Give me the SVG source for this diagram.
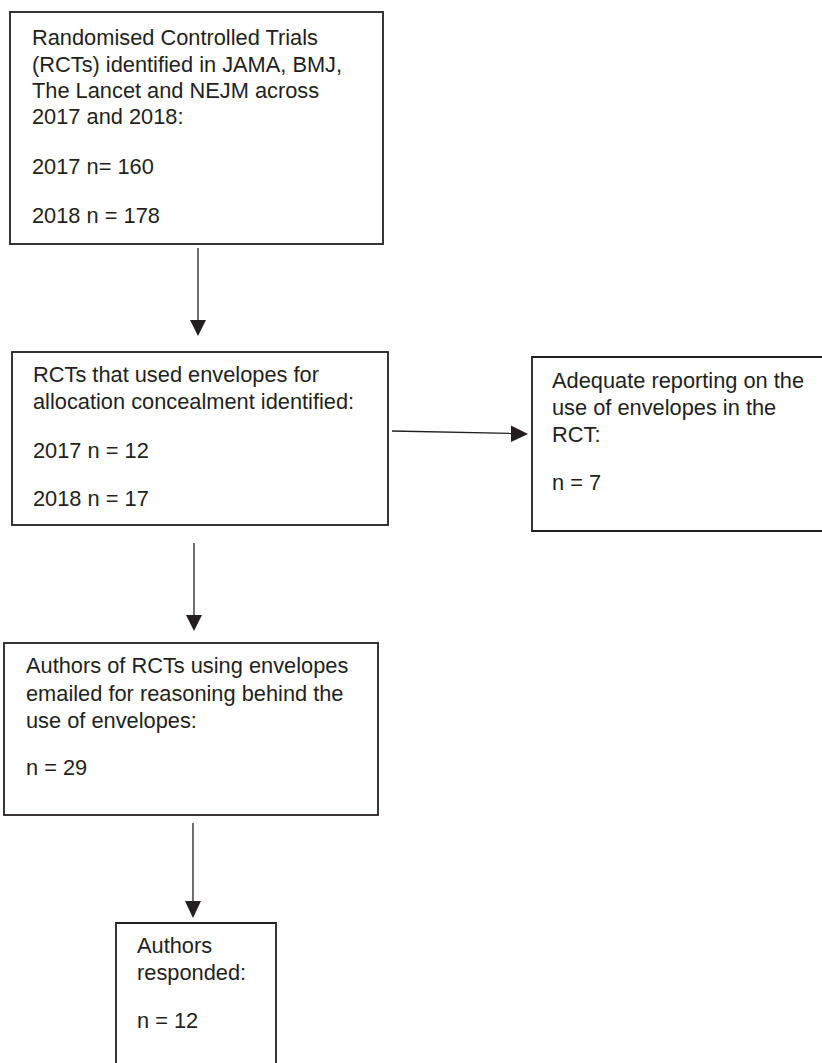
<svg xmlns="http://www.w3.org/2000/svg" width="822" height="1063" viewBox="0 0 822 1063">
<style>
.box{fill:#fff;stroke:#231f20;stroke-width:1.8}
.t{font-family:"Liberation Sans",Arial,sans-serif;font-size:21.8px;fill:#231f20}
.c{stroke:#231f20;stroke-width:1.3;fill:none}
.h{fill:#231f20}
</style>
<rect width="822" height="1063" fill="#fff"/>
<g id="n1">
<rect class="box" x="10" y="12" width="373" height="232"/>
<text class="t"><tspan x="32" y="45">Randomised Controlled Trials</tspan><tspan x="32" y="71.5">(RCTs) identified in JAMA, BMJ,</tspan><tspan x="32" y="97.5">The Lancet and NEJM across</tspan><tspan x="32" y="123.5">2017 and 2018:</tspan><tspan x="32" y="174">2017 n= 160</tspan><tspan x="32" y="223">2018 n = 178</tspan></text>
</g>
<g id="n2">
<rect class="box" x="12" y="352" width="376" height="173"/>
<text class="t"><tspan x="33" y="382">RCTs that used envelopes for</tspan><tspan x="33" y="409">allocation concealment identified:</tspan><tspan x="33" y="458">2017 n = 12</tspan><tspan x="33" y="506">2018 n = 17</tspan></text>
</g>
<g id="n3">
<path class="box" d="M822 357 H532 V531 H822"/>
<text class="t"><tspan x="552" y="388">Adequate reporting on the</tspan><tspan x="552" y="415">use of envelopes in the</tspan><tspan x="552" y="442">RCT:</tspan><tspan x="552" y="490">n = 7</tspan></text>
</g>
<g id="n4">
<rect class="box" x="4" y="643" width="374" height="172"/>
<text class="t"><tspan x="26" y="673">Authors of RCTs using envelopes</tspan><tspan x="26" y="701">emailed for reasoning behind the</tspan><tspan x="26" y="728">use of envelopes:</tspan><tspan x="26" y="775">n = 29</tspan></text>
</g>
<g id="n5">
<path class="box" d="M116 1064 V923 H276 V1064"/>
<text class="t"><tspan x="137" y="953">Authors</tspan><tspan x="137" y="980">responded:</tspan><tspan x="137" y="1028">n = 12</tspan></text>
</g>
<g id="connectors">
<line class="c" x1="198" y1="248" x2="198" y2="322"/>
<polygon class="h" points="190,320 206,320 198,336"/>
<line class="c" x1="392" y1="431" x2="513" y2="433.5"/>
<polygon class="h" points="511,425.5 511,442 528,434"/>
<line class="c" x1="194" y1="543" x2="194" y2="617"/>
<polygon class="h" points="186,615 202,615 194,631"/>
<line class="c" x1="193" y1="823" x2="193" y2="903"/>
<polygon class="h" points="185,901 201,901 193,918"/>
</g>
</svg>
